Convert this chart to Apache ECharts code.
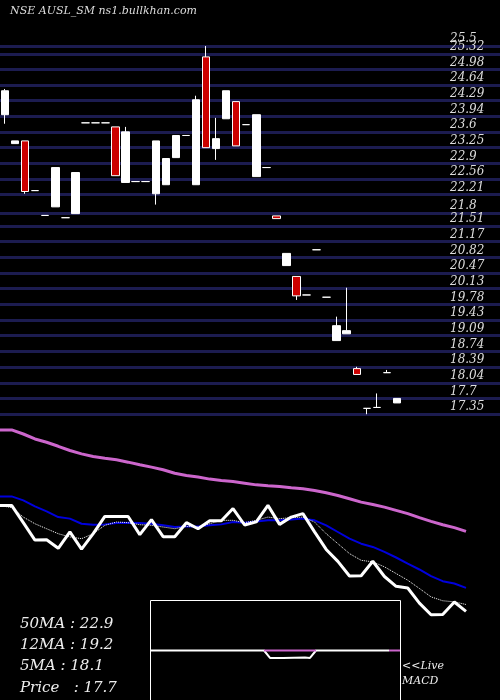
<!DOCTYPE html>
<html>
<head>
<meta charset="UTF-8">
<title>AUSL_SM</title>
<script src="https://cdn.jsdelivr.net/npm/echarts@6/dist/echarts.min.js"></script>
<style>html,body{margin:0;padding:0;background:#000;}</style>
</head>
<body>
<div id="main" style="width:500px;height:700px;"></div>
<script type="text/javascript">
// candles: open, close, low, high
var opens  = [23.98,23.34,23.40,22.30,21.75,21.94,21.70,21.79,23.80,23.80,23.80,23.71,22.48,22.50,22.50,22.23,22.43,23.03,23.52,22.43,
              25.26,23.23,23.89,24.27,23.76,22.61,22.81,21.74,20.64,20.40,19.99,20.99,19.94,18.98,19.13,18.36,17.48,17.50,18.27,17.60];
var closes = [24.51,23.40,22.28,22.30,21.75,22.81,21.70,22.70,23.80,23.80,23.80,22.63,23.60,22.50,22.50,23.40,23.01,23.52,23.52,24.31,
              23.25,23.45,24.51,23.29,23.76,23.98,22.81,21.68,20.91,19.97,19.99,20.99,19.94,19.31,19.20,18.23,17.48,17.50,18.27,17.70];
var lows   = [23.78,23.34,22.23,22.30,21.75,21.94,21.70,21.79,23.80,23.80,23.80,22.63,22.48,22.50,22.50,21.99,22.43,23.03,23.52,22.43,
              23.25,22.98,23.89,23.29,23.76,22.61,22.81,21.68,20.64,19.88,19.99,20.99,19.94,18.98,19.13,18.23,17.35,17.50,18.27,17.60];
var highs  = [24.55,23.40,23.40,22.30,21.75,22.81,21.70,22.70,23.80,23.80,23.80,23.71,23.71,22.50,22.50,23.40,23.01,23.52,23.52,24.40,
              25.50,23.91,24.51,24.27,23.76,23.98,22.81,21.74,20.91,20.40,19.99,20.99,19.94,19.51,20.15,18.40,17.48,17.81,18.33,17.70];

var priceLevels = ['25.5','25.32','24.98','24.64','24.29','23.94','23.6','23.25','22.9','22.56','22.21','21.8','21.51',
                   '21.17','20.82','20.47','20.13','19.78','19.43','19.09','18.74','18.39','18.04','17.7','17.35'];

// lower panel lines (41 points)
var closeLine = [24.51,24.51,23.40,22.28,22.30,21.75,22.81,21.70,22.70,23.80,23.80,23.80,22.63,23.60,22.50,22.50,23.40,23.01,23.52,23.52,24.31,
                 23.25,23.45,24.51,23.29,23.76,23.98,22.81,21.68,20.91,19.97,19.99,20.92,19.94,19.31,19.20,18.23,17.48,17.50,18.30,17.70];
var ma50 = [29.36,29.36,29.10,28.78,28.57,28.31,28.04,27.82,27.65,27.54,27.44,27.29,27.12,26.97,26.80,26.58,26.43,26.33,26.20,26.11,26.05,
            25.94,25.83,25.77,25.73,25.64,25.58,25.47,25.32,25.15,24.94,24.72,24.57,24.40,24.19,23.98,23.72,23.48,23.27,23.08,22.84];
var ma12 = [25.09,25.09,24.83,24.45,24.13,23.76,23.66,23.33,23.27,23.29,23.38,23.40,23.38,23.33,23.23,23.12,23.16,23.16,23.23,23.29,23.44,
            23.40,23.48,23.55,23.55,23.61,23.66,23.55,23.23,22.80,22.37,22.05,21.84,21.52,21.16,20.77,20.39,19.96,19.64,19.49,19.21];
var ma5  = [24.51,24.36,23.76,23.33,23.01,22.69,22.48,22.37,22.69,23.23,23.44,23.40,23.27,23.23,23.12,23.01,23.16,23.12,23.33,23.55,23.55,
            23.40,23.55,23.76,23.66,23.72,23.76,23.44,22.69,22.05,21.41,20.98,20.88,20.56,20.13,19.70,19.17,18.63,18.38,18.31,18.14];

// MACD box
var macdWhite = [[0,0],[113,0],[119,-0.15],[132,-0.15],[154,-0.14],[159,-0.15],[165,0],[238,0]];
var macdPink = [[113,0],[165,0]];
var macdPink2 = [[238,0],[249,0]];

var candleData = [];
for (var i = 0; i < opens.length; i++) {
    candleData.push([opens[i], closes[i], lows[i], highs[i]]);
}
var cats = [];
for (var i = 0; i < opens.length; i++) cats.push(i);
var cats2 = [];
for (var i = 0; i < closeLine.length; i++) cats2.push(i);

var fontSerif = '"DejaVu Serif", "Liberation Serif", serif';

var myChart = echarts.init(document.getElementById('main'));
var option = {
    backgroundColor: '#000',
    animation: false,
    grid: [
        {left: -2, top: 37, width: 404, height: 384},
        {left: 0, right: 0, top: 37, height: 384},
        {left: 0, top: 420, width: 466, height: 281},
        {left: 151, top: 601, width: 249, height: 99}
    ],
    xAxis: [
        {type: 'category', gridIndex: 0, data: cats, show: false},
        {type: 'value', gridIndex: 1, min: 0, max: 1, show: false},
        {type: 'category', gridIndex: 2, data: cats2, boundaryGap: false, show: false},
        {type: 'value', gridIndex: 3, min: 0, max: 249, show: false}
    ],
    yAxis: [
        {type: 'value', gridIndex: 0, min: 17.2, max: 25.7, show: false},
        {type: 'value', gridIndex: 1, min: 17.2, max: 25.7, show: false},
        {type: 'value', gridIndex: 2, min: 12, max: 30, show: false},
        {type: 'value', gridIndex: 3, min: -1, max: 1, show: false}
    ],
    graphic: [
        {type: 'rect', shape: {x: 150.5, y: 600.5, width: 250, height: 110}, style: {fill: 'none', stroke: '#fff', lineWidth: 1}},
        {type: 'text', left: 10, top: 6, style: {text: 'NSE AUSL_SM ns1.bullkhan.com', fill: '#ddd', font: 'italic 11px ' + fontSerif}},
        {type: 'text', left: 20, top: 617, style: {text: '50MA : 22.9', fill: '#eee', font: 'italic 15px ' + fontSerif}},
        {type: 'text', left: 20, top: 638, style: {text: '12MA : 19.2', fill: '#eee', font: 'italic 15px ' + fontSerif}},
        {type: 'text', left: 20, top: 659, style: {text: '5MA : 18.1', fill: '#eee', font: 'italic 15px ' + fontSerif}},
        {type: 'text', left: 20, top: 681, style: {text: 'Price   : 17.7', fill: '#eee', font: 'italic 15px ' + fontSerif}},
        {type: 'text', left: 402, top: 661, style: {text: '<<Live', fill: '#eee', font: 'italic 11px ' + fontSerif}},
        {type: 'text', left: 402, top: 676, style: {text: 'MACD', fill: '#eee', font: 'italic 11px ' + fontSerif}}
    ],
    series: [
        {
            type: 'line', xAxisIndex: 1, yAxisIndex: 1, data: [], silent: true, z: 0, zlevel: 0,
            markLine: {
                symbol: 'none', z: 0,
                lineStyle: {color: '#1c1c50', width: 3, type: 'solid'},
                label: {
                    position: 'insideEndTop', distance: [50, 1], align: 'left',
                    color: '#ddd', fontFamily: fontSerif, fontStyle: 'italic', fontSize: 12,
                    formatter: function (p) { return p.name; }
                },
                data: priceLevels.map(function (v) { return {yAxis: parseFloat(v), name: v}; })
            }
        },
        {
            type: 'candlestick', xAxisIndex: 0, yAxisIndex: 0, data: candleData, barWidth: 8, z: 10, zlevel: 1,
            itemStyle: {color: '#fff', color0: '#cc0000', borderColor: '#fff', borderColor0: '#fff', borderWidth: 1}
        },
        {type: 'line', xAxisIndex: 2, yAxisIndex: 2, data: ma50, symbol: 'none', lineStyle: {color: '#cc66cc', width: 3}},
        {type: 'line', xAxisIndex: 2, yAxisIndex: 2, data: ma12, symbol: 'none', lineStyle: {color: '#0000dd', width: 2}},
        {type: 'line', xAxisIndex: 2, yAxisIndex: 2, data: ma5, symbol: 'none', lineStyle: {color: '#fff', width: 1, type: 'dotted'}},
        {type: 'line', xAxisIndex: 2, yAxisIndex: 2, data: closeLine, symbol: 'none', lineStyle: {color: '#fff', width: 3}},
        {type: 'line', xAxisIndex: 3, yAxisIndex: 3, data: macdWhite, symbol: 'none', lineStyle: {color: '#fff', width: 2}},
        {type: 'line', xAxisIndex: 3, yAxisIndex: 3, data: macdPink, symbol: 'none', lineStyle: {color: '#cc66cc', width: 2}},
        {type: 'line', xAxisIndex: 3, yAxisIndex: 3, data: macdPink2, symbol: 'none', lineStyle: {color: '#cc66cc', width: 2}}
    ]
};
myChart.setOption(option);
</script>
</body>
</html>
